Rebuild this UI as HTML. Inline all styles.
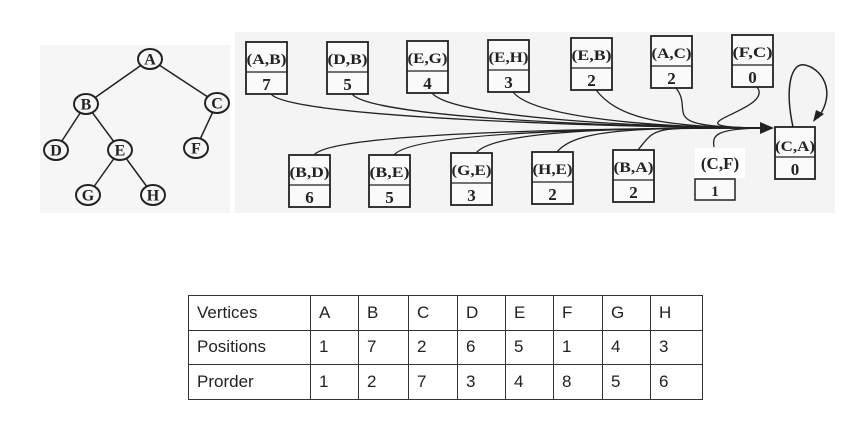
<!DOCTYPE html>
<html><head><meta charset="utf-8"><style>
body{margin:0;background:#fff;width:850px;height:432px;overflow:hidden;position:relative;font-family:"Liberation Serif",serif}
svg{position:absolute;left:0;top:0}
table{position:absolute;left:188px;top:295px;border-collapse:collapse;font-family:"Liberation Sans",sans-serif;font-size:17px;color:#222}
td{border:1.5px solid #333;height:34.5px;padding:0 0 0 8px;box-sizing:border-box}
</style></head><body>
<svg width="850" height="432">
<rect x="40" y="45" width="190" height="168" fill="#f6f6f6"/>
<rect x="235" y="32" width="600" height="181" fill="#f4f4f4"/>
<g id="tree" stroke="#222" stroke-width="1.5" fill="none"></g>
<g id="curves" stroke="#222" stroke-width="1.3" fill="none"></g>
<g id="boxes"></g>
</svg>
<table>
<tr><td style="width:122px">Vertices</td><td style="width:48px">A</td><td style="width:50px">B</td><td style="width:49px">C</td><td style="width:48px">D</td><td style="width:48px">E</td><td style="width:49px">F</td><td style="width:48px">G</td><td style="width:52px">H</td></tr>
<tr><td>Positions</td><td>1</td><td>7</td><td>2</td><td>6</td><td>5</td><td>1</td><td>4</td><td>3</td></tr>
<tr><td>Prorder</td><td>1</td><td>2</td><td>7</td><td>3</td><td>4</td><td>8</td><td>5</td><td>6</td></tr>
</table>
<script>
const NS="http://www.w3.org/2000/svg";
function mk(t,a,p){const e=document.createElementNS(NS,t);for(const k in a)e.setAttribute(k,a[k]);p.appendChild(e);return e;}
const nodes={A:[150,59],B:[86,104],C:[217,103],D:[56,150],E:[120,150],F:[196,148],G:[88,195],H:[153,195]};
const edges=[["A","B"],["A","C"],["B","D"],["B","E"],["C","F"],["E","G"],["E","H"]];
const tree=document.getElementById('tree');
edges.forEach(([a,b])=>{const l=mk('line',{x1:nodes[a][0],y1:nodes[a][1],x2:nodes[b][0],y2:nodes[b][1]},tree);

});
for(const k in nodes){const [x,y]=nodes[k];
const c=mk('ellipse',{cx:x,cy:y,rx:12,ry:10,fill:"#f6f6f6",stroke:"#222","stroke-width":2},tree);


const t=mk('text',{x:x,y:y+5.5,"text-anchor":"middle","font-size":16,"font-weight":"bold",fill:"#222",stroke:"none"},tree);t.textContent=k;}
const boxes=[["(A,B)","7",246,42,1],["(D,B)","5",327,42,1],["(E,G)","4",407,41,1],["(E,H)","3",488,40,1],["(E,B)","2",571,38,1],["(A,C)","2",651,36,1],["(F,C)","0",732,35,1],
["(B,D)","6",289,155,0],["(B,E)","5",369,155,0],["(G,E)","3",451,153,0],["(H,E)","2",532,152,0],["(B,A)","2",613,150,0]];
const g=document.getElementById('boxes'),cv=document.getElementById('curves');
const tx=770,ty=128;
boxes.forEach(([lab,v,x,y,top])=>{
const bx=mk('g',{},g);


mk('rect',{x:x,y:y,width:41,height:52,fill:"#fafafa",stroke:"#222","stroke-width":1.8},bx);
mk('line',{x1:x,y1:y+30,x2:x+41,y2:y+30,stroke:"#222","stroke-width":1.3},bx);
let t=mk('text',{x:x+20.5,y:y+22,"text-anchor":"middle","font-size":15,"font-weight":"bold",fill:"#222",textLength:40,lengthAdjust:"spacingAndGlyphs"},bx);t.textContent=lab;
t=mk('text',{x:x+20.5,y:y+48,"text-anchor":"middle","font-size":17,"font-weight":"bold",fill:"#222"},bx);t.textContent=v;
const sx=x+25,sy=top?y+52:y;
const p=mk('path',{d:`M${sx},${sy} C${sx+20},${top?sy+25:sy-25} ${tx-120},${ty} ${tx},${ty}`},cv);

});
mk('rect',{x:695,y:148,width:50,height:30,fill:"#fff"},g);
let t=mk('text',{x:720,y:169,"text-anchor":"middle","font-size":17,"font-weight":"bold",fill:"#222"},g);t.textContent="(C,F)";


mk('rect',{x:695,y:179,width:40,height:21,fill:"#fafafa",stroke:"#222","stroke-width":1.5},g);
t=mk('text',{x:715,y:196,"text-anchor":"middle","font-size":15,"font-weight":"bold",fill:"#222"},g);t.textContent="1";
mk('path',{d:"M714,147 C712,135 716,129 760,128"},cv);
const ca=mk('g',{},g);


mk('rect',{x:775,y:127,width:40,height:52,fill:"#fafafa",stroke:"#222","stroke-width":1.8},ca);
mk('line',{x1:775,y1:157,x2:815,y2:157,stroke:"#222","stroke-width":1.3},ca);
t=mk('text',{x:795,y:151,"text-anchor":"middle","font-size":15,"font-weight":"bold",fill:"#222",textLength:40,lengthAdjust:"spacingAndGlyphs"},ca);t.textContent="(C,A)";
t=mk('text',{x:795,y:175,"text-anchor":"middle","font-size":17,"font-weight":"bold",fill:"#222"},ca);t.textContent="0";
mk('path',{d:"M793,127 C785,90 790,62 805,65 C820,68 838,90 818,118",stroke:"#222","stroke-width":1.5,fill:"none"},g);
mk('polygon',{points:"813,122 816,110 824,114",fill:"#222"},g);
mk('polygon',{points:"774,128 760,122 760,134",fill:"#222"},g);
</script>
</body></html>
